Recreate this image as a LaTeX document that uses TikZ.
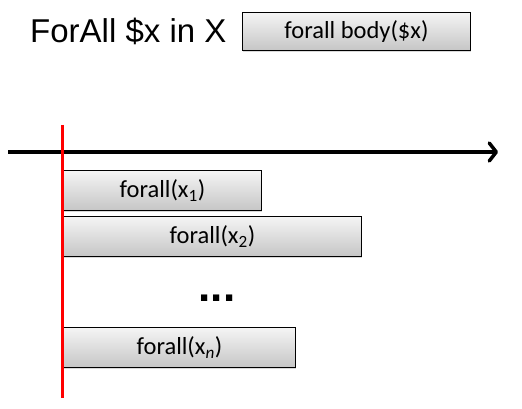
\documentclass[tikz,border=0pt]{standalone}
\usepackage{fontspec}
\setmainfont{Carlito}
\newfontfamily\arialfont{Liberation Sans}
\usetikzlibrary{arrows.meta,positioning,shadows}
\tikzset{
  tbox/.style={draw=black, line width=0.9pt, top color=gray!8, bottom color=gray!45, drop shadow={opacity=0.3, shadow xshift=1pt, shadow yshift=-2pt}, inner sep=0pt, minimum height=40pt, font=\fontsize{24.5}{28}\selectfont, anchor=north west},
  tarr/.style={-{Straight Barb[length=7pt,width=18pt,round]}, line width=3.5pt},
  tmark/.style={red, line width=3pt}
}

\begin{document}
\begin{tikzpicture}[x=1pt,y=-1pt]
\useasboundingbox (0,0) rectangle (522,409);
\node[anchor=base west, inner sep=0pt, font=\arialfont\fontsize{33}{38}\selectfont] (title) at (30,43) {ForAll \$x in X};
\node[tbox, minimum width=228pt, minimum height=38pt] (body) at (242,12) {forall body(\$x)};
\coordinate (t0) at (8,152);
\coordinate (t1) at (498,152);
\draw[tarr] (t0) -- (t1);
\node[tbox, minimum width=198pt] (b1) at (63,170) {forall(x\textsubscript{1})};
\node[tbox, minimum width=298pt, below=5pt of b1.south west, anchor=north west] (b2) {forall(x\textsubscript{2})};
\node[anchor=base, inner sep=0pt, font=\arialfont\bfseries\fontsize{44}{48}\selectfont] (dots) at (217,301) {...};
\node[tbox, minimum width=232pt] (bn) at (63,327) {forall(x\textsubscript{\textit{n}})};
\coordinate (m0) at (62,125);
\coordinate (m1) at (62,398);
\draw[tmark] (m0) -- (m1);
\end{tikzpicture}
\end{document}
